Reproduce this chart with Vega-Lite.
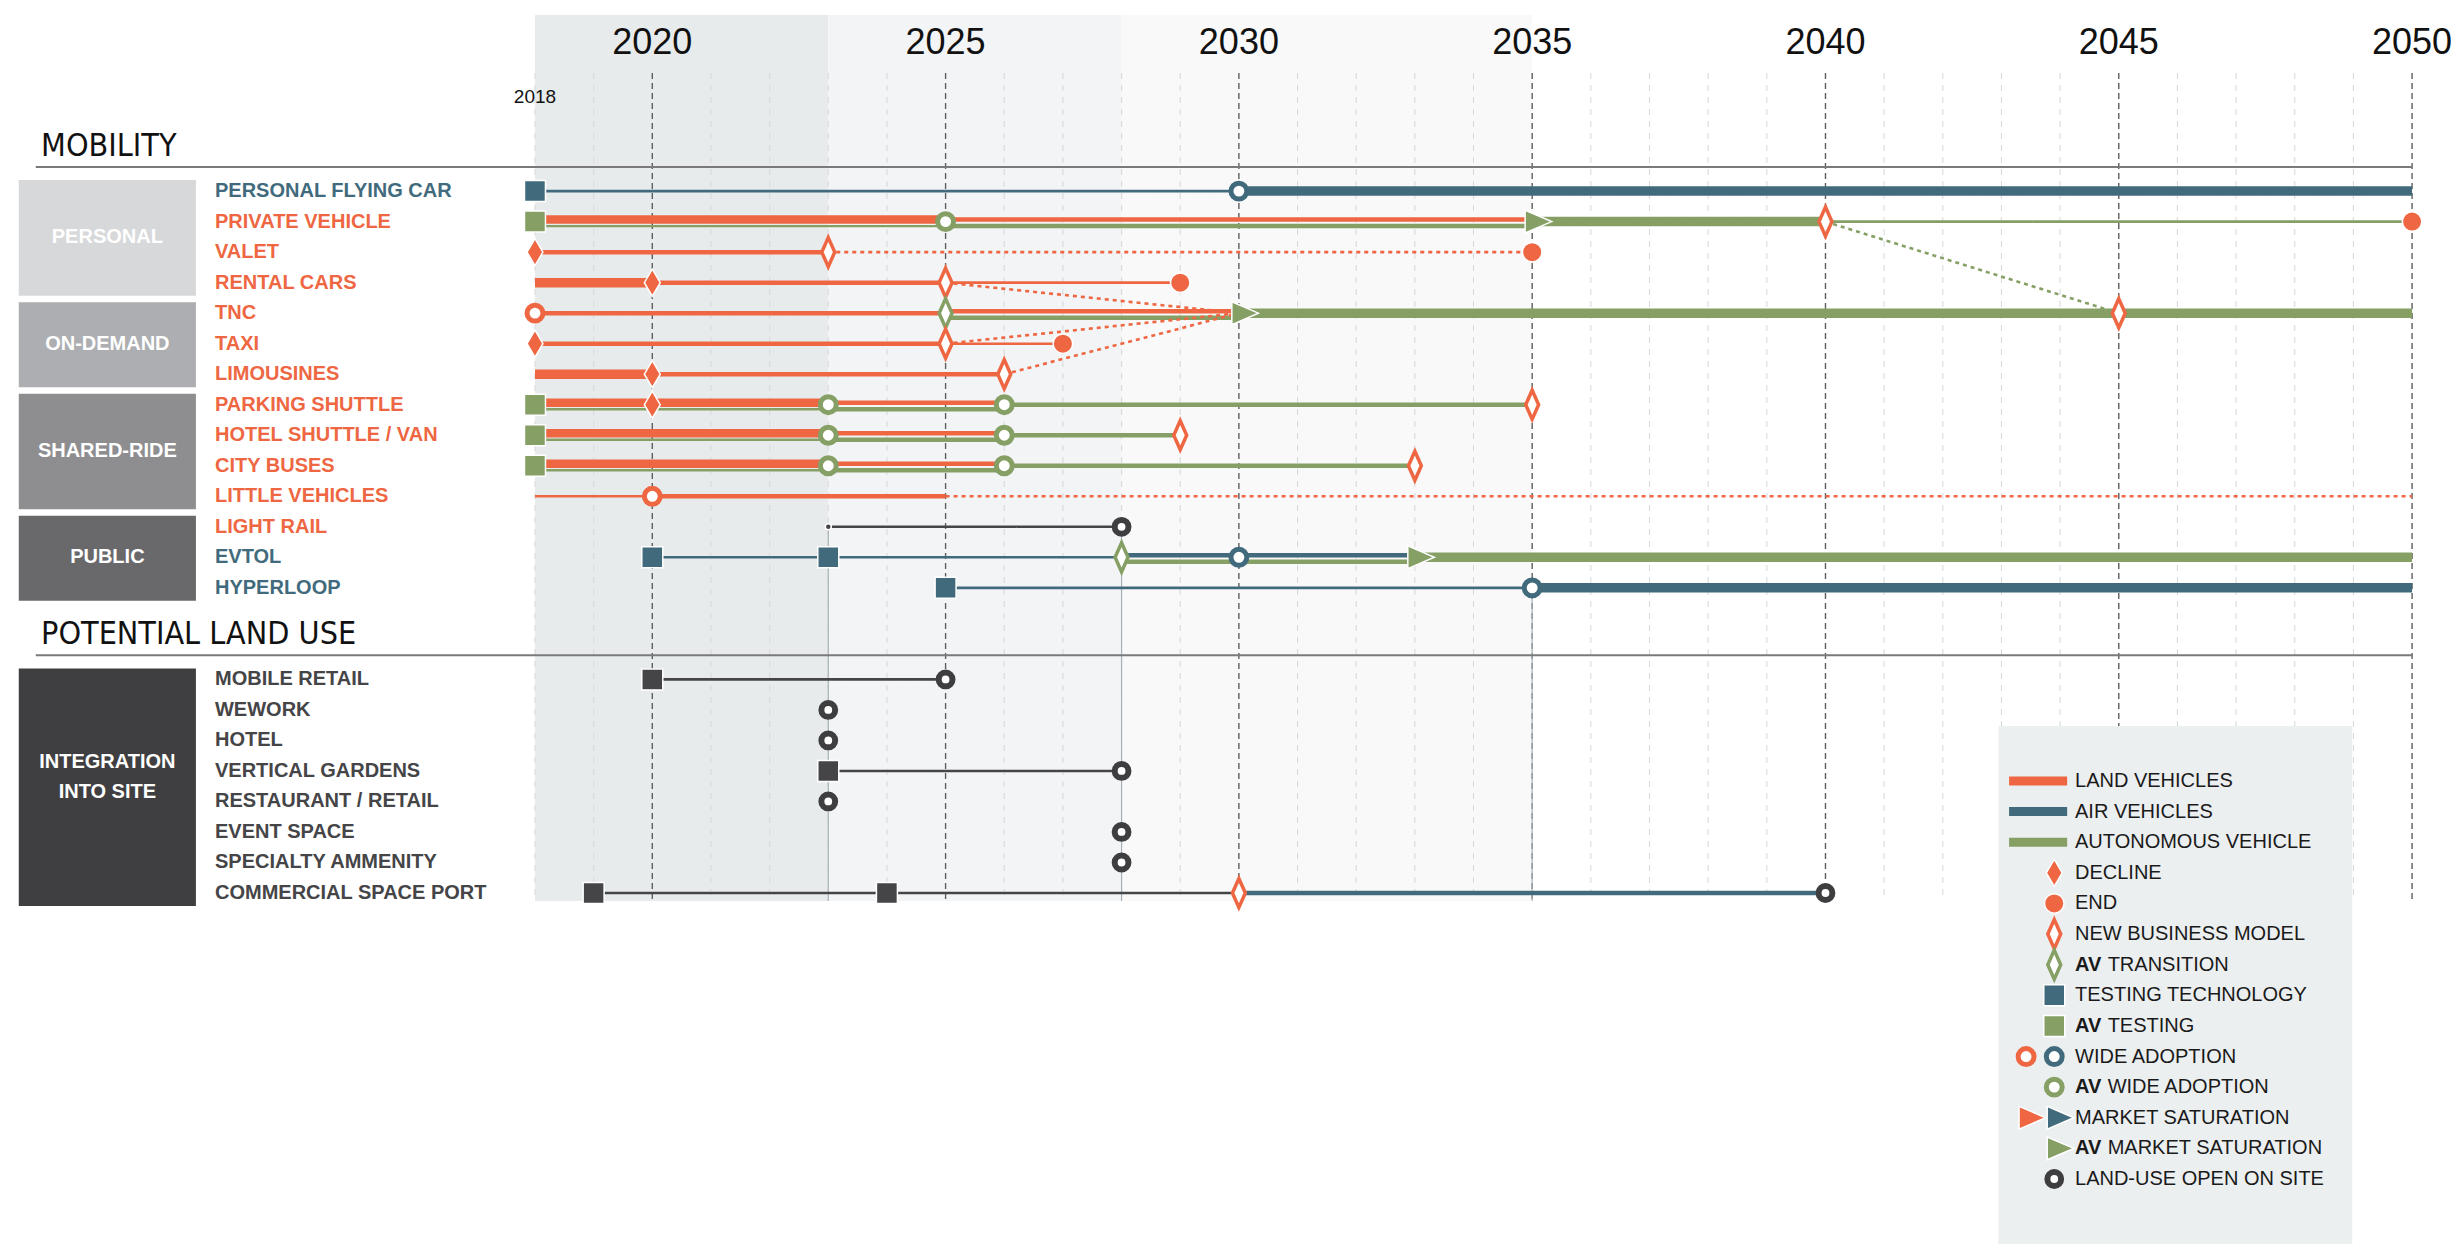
{
  "$schema": "https://vega.github.io/schema/vega-lite/v6.json",
  "width": 2459,
  "height": 1244,
  "autosize": {"type": "fit", "contains": "padding"},
  "padding": 0,
  "background": "white",
  "config": {
    "view": {"stroke": null},
    "axis": {"disable": true},
    "legend": {"disable": true},
    "text": {"font": "Liberation Sans"}
  },
  "datasets": {
    "years": [
      {"year": 2018}, {"year": 2019}, {"year": 2020}, {"year": 2021}, {"year": 2022}, {"year": 2023}, {"year": 2024},
      {"year": 2025}, {"year": 2026}, {"year": 2027}, {"year": 2028}, {"year": 2029}, {"year": 2030}, {"year": 2031},
      {"year": 2032}, {"year": 2033}, {"year": 2034}, {"year": 2035}, {"year": 2036}, {"year": 2037}, {"year": 2038},
      {"year": 2039}, {"year": 2040}, {"year": 2041}, {"year": 2042}, {"year": 2043}, {"year": 2044}, {"year": 2045},
      {"year": 2046}, {"year": 2047}, {"year": 2048}, {"year": 2049}, {"year": 2050}
    ],
    "periods": [
      {"period": "Near term", "start": 2018, "end": 2023},
      {"period": "Mid term", "start": 2023, "end": 2028},
      {"period": "Long term", "start": 2028, "end": 2035}
    ],
    "groups": [
      {"group": "PERSONAL", "first": "PERSONAL FLYING CAR", "last": "RENTAL CARS", "rows": 4},
      {"group": "ON-DEMAND", "first": "TNC", "last": "LIMOUSINES", "rows": 3},
      {"group": "SHARED-RIDE", "first": "PARKING SHUTTLE", "last": "LITTLE VEHICLES", "rows": 4},
      {"group": "PUBLIC", "first": "LIGHT RAIL", "last": "HYPERLOOP", "rows": 3},
      {"group": "INTEGRATION\nINTO SITE", "first": "MOBILE RETAIL", "last": "COMMERCIAL SPACE PORT", "rows": 8}
    ],
    "sections": [{"section": "MOBILITY"}, {"section": "POTENTIAL LAND USE"}],
    "items": [
      {"item": "PERSONAL FLYING CAR", "mode": "air"},
      {"item": "PRIVATE VEHICLE", "mode": "land"},
      {"item": "VALET", "mode": "land"},
      {"item": "RENTAL CARS", "mode": "land"},
      {"item": "TNC", "mode": "land"},
      {"item": "TAXI", "mode": "land"},
      {"item": "LIMOUSINES", "mode": "land"},
      {"item": "PARKING SHUTTLE", "mode": "land"},
      {"item": "HOTEL SHUTTLE / VAN", "mode": "land"},
      {"item": "CITY BUSES", "mode": "land"},
      {"item": "LITTLE VEHICLES", "mode": "land"},
      {"item": "LIGHT RAIL", "mode": "land"},
      {"item": "EVTOL", "mode": "air"},
      {"item": "HYPERLOOP", "mode": "air"},
      {"item": "MOBILE RETAIL", "mode": "site"},
      {"item": "WEWORK", "mode": "site"},
      {"item": "HOTEL", "mode": "site"},
      {"item": "VERTICAL GARDENS", "mode": "site"},
      {"item": "RESTAURANT / RETAIL", "mode": "site"},
      {"item": "EVENT SPACE", "mode": "site"},
      {"item": "SPECIALTY AMMENITY", "mode": "site"},
      {"item": "COMMERCIAL SPACE PORT", "mode": "site"}
    ],
    "links": [
      {"year": 2023, "from": "LIGHT RAIL"},
      {"year": 2028, "from": "LIGHT RAIL"},
      {"year": 2035, "from": "HYPERLOOP"}
    ],
    "segments": [
      {"item": "PERSONAL FLYING CAR", "mode": "air", "start": 2018, "end": 2030, "level": "low"},
      {"item": "PERSONAL FLYING CAR", "mode": "air", "start": 2030, "end": 2050, "level": "high"},
      {"item": "PRIVATE VEHICLE", "mode": "land", "start": 2018, "end": 2025, "level": "high", "shared": true},
      {"item": "PRIVATE VEHICLE", "mode": "av", "start": 2018, "end": 2025, "level": "low", "shared": true},
      {"item": "PRIVATE VEHICLE", "mode": "land", "start": 2025, "end": 2035, "level": "mid", "shared": true},
      {"item": "PRIVATE VEHICLE", "mode": "av", "start": 2025, "end": 2035, "level": "mid", "shared": true},
      {"item": "PRIVATE VEHICLE", "mode": "av", "start": 2035, "end": 2040, "level": "high"},
      {"item": "PRIVATE VEHICLE", "mode": "av", "start": 2040, "end": 2050, "level": "low"},
      {"item": "VALET", "mode": "land", "start": 2018, "end": 2023, "level": "mid"},
      {"item": "VALET", "mode": "land", "start": 2023, "end": 2035, "level": "low", "status": "projected"},
      {"item": "RENTAL CARS", "mode": "land", "start": 2018, "end": 2020, "level": "high"},
      {"item": "RENTAL CARS", "mode": "land", "start": 2020, "end": 2025, "level": "mid"},
      {"item": "RENTAL CARS", "mode": "land", "start": 2025, "end": 2029, "level": "low"},
      {"item": "TNC", "mode": "land", "start": 2018, "end": 2025, "level": "mid"},
      {"item": "TNC", "mode": "land", "start": 2025, "end": 2030, "level": "mid", "shared": true},
      {"item": "TNC", "mode": "av", "start": 2025, "end": 2030, "level": "mid", "shared": true},
      {"item": "TNC", "mode": "av", "start": 2030, "end": 2050, "level": "high"},
      {"item": "TAXI", "mode": "land", "start": 2018, "end": 2025, "level": "mid"},
      {"item": "TAXI", "mode": "land", "start": 2025, "end": 2027, "level": "low"},
      {"item": "LIMOUSINES", "mode": "land", "start": 2018, "end": 2020, "level": "high"},
      {"item": "LIMOUSINES", "mode": "land", "start": 2020, "end": 2026, "level": "mid"},
      {"item": "PARKING SHUTTLE", "mode": "land", "start": 2018, "end": 2023, "level": "high", "shared": true},
      {"item": "PARKING SHUTTLE", "mode": "av", "start": 2018, "end": 2023, "level": "low", "shared": true},
      {"item": "PARKING SHUTTLE", "mode": "land", "start": 2023, "end": 2026, "level": "mid", "shared": true},
      {"item": "PARKING SHUTTLE", "mode": "av", "start": 2023, "end": 2026, "level": "mid", "shared": true},
      {"item": "PARKING SHUTTLE", "mode": "av", "start": 2026, "end": 2035, "level": "mid"},
      {"item": "HOTEL SHUTTLE / VAN", "mode": "land", "start": 2018, "end": 2023, "level": "high", "shared": true},
      {"item": "HOTEL SHUTTLE / VAN", "mode": "av", "start": 2018, "end": 2023, "level": "low", "shared": true},
      {"item": "HOTEL SHUTTLE / VAN", "mode": "land", "start": 2023, "end": 2026, "level": "mid", "shared": true},
      {"item": "HOTEL SHUTTLE / VAN", "mode": "av", "start": 2023, "end": 2026, "level": "mid", "shared": true},
      {"item": "HOTEL SHUTTLE / VAN", "mode": "av", "start": 2026, "end": 2029, "level": "mid"},
      {"item": "CITY BUSES", "mode": "land", "start": 2018, "end": 2023, "level": "high", "shared": true},
      {"item": "CITY BUSES", "mode": "av", "start": 2018, "end": 2023, "level": "low", "shared": true},
      {"item": "CITY BUSES", "mode": "land", "start": 2023, "end": 2026, "level": "mid", "shared": true},
      {"item": "CITY BUSES", "mode": "av", "start": 2023, "end": 2026, "level": "mid", "shared": true},
      {"item": "CITY BUSES", "mode": "av", "start": 2026, "end": 2033, "level": "mid"},
      {"item": "LITTLE VEHICLES", "mode": "land", "start": 2018, "end": 2020, "level": "low"},
      {"item": "LITTLE VEHICLES", "mode": "land", "start": 2020, "end": 2025, "level": "mid"},
      {"item": "LITTLE VEHICLES", "mode": "land", "start": 2025, "end": 2050, "level": "low", "status": "projected"},
      {"item": "LIGHT RAIL", "mode": "site", "start": 2023, "end": 2028, "level": "low"},
      {"item": "EVTOL", "mode": "air", "start": 2020, "end": 2023, "level": "low"},
      {"item": "EVTOL", "mode": "air", "start": 2023, "end": 2028, "level": "low"},
      {"item": "EVTOL", "mode": "air", "start": 2028, "end": 2033, "level": "mid", "shared": true},
      {"item": "EVTOL", "mode": "av", "start": 2028, "end": 2033, "level": "mid", "shared": true},
      {"item": "EVTOL", "mode": "av", "start": 2033, "end": 2050, "level": "high"},
      {"item": "HYPERLOOP", "mode": "air", "start": 2025, "end": 2035, "level": "low"},
      {"item": "HYPERLOOP", "mode": "air", "start": 2035, "end": 2050, "level": "high"},
      {"item": "MOBILE RETAIL", "mode": "site", "start": 2020, "end": 2025, "level": "low"},
      {"item": "VERTICAL GARDENS", "mode": "site", "start": 2023, "end": 2028, "level": "low"},
      {"item": "COMMERCIAL SPACE PORT", "mode": "site", "start": 2019, "end": 2024, "level": "low"},
      {"item": "COMMERCIAL SPACE PORT", "mode": "site", "start": 2024, "end": 2030, "level": "low"},
      {"item": "COMMERCIAL SPACE PORT", "mode": "air", "start": 2030, "end": 2040, "level": "mid"}
    ],
    "connectors": [
      {"item": "PRIVATE VEHICLE", "to": "TNC", "start": 2040, "end": 2045, "mode": "av"},
      {"item": "RENTAL CARS", "to": "TNC", "start": 2025, "end": 2030, "mode": "land"},
      {"item": "TAXI", "to": "TNC", "start": 2025, "end": 2030, "mode": "land"},
      {"item": "LIMOUSINES", "to": "TNC", "start": 2026, "end": 2030, "mode": "land"}
    ],
    "events": [
      {"item": "PERSONAL FLYING CAR", "year": 2018, "event": "Testing", "mode": "air"},
      {"item": "PERSONAL FLYING CAR", "year": 2030, "event": "Wide adoption", "mode": "air"},
      {"item": "PRIVATE VEHICLE", "year": 2018, "event": "Testing", "mode": "av"},
      {"item": "PRIVATE VEHICLE", "year": 2025, "event": "Wide adoption", "mode": "av"},
      {"item": "PRIVATE VEHICLE", "year": 2035, "event": "Market saturation", "mode": "av"},
      {"item": "PRIVATE VEHICLE", "year": 2040, "event": "New business model", "mode": "land"},
      {"item": "PRIVATE VEHICLE", "year": 2050, "event": "End", "mode": "land"},
      {"item": "VALET", "year": 2018, "event": "Decline", "mode": "land"},
      {"item": "VALET", "year": 2023, "event": "New business model", "mode": "land"},
      {"item": "VALET", "year": 2035, "event": "End", "mode": "land"},
      {"item": "RENTAL CARS", "year": 2020, "event": "Decline", "mode": "land"},
      {"item": "RENTAL CARS", "year": 2025, "event": "New business model", "mode": "land"},
      {"item": "RENTAL CARS", "year": 2029, "event": "End", "mode": "land"},
      {"item": "TNC", "year": 2018, "event": "Wide adoption", "mode": "land"},
      {"item": "TNC", "year": 2025, "event": "AV transition", "mode": "av"},
      {"item": "TNC", "year": 2030, "event": "Market saturation", "mode": "av"},
      {"item": "TNC", "year": 2045, "event": "New business model", "mode": "land"},
      {"item": "TAXI", "year": 2018, "event": "Decline", "mode": "land"},
      {"item": "TAXI", "year": 2025, "event": "New business model", "mode": "land"},
      {"item": "TAXI", "year": 2027, "event": "End", "mode": "land"},
      {"item": "LIMOUSINES", "year": 2020, "event": "Decline", "mode": "land"},
      {"item": "LIMOUSINES", "year": 2026, "event": "New business model", "mode": "land"},
      {"item": "PARKING SHUTTLE", "year": 2018, "event": "Testing", "mode": "av"},
      {"item": "PARKING SHUTTLE", "year": 2020, "event": "Decline", "mode": "land"},
      {"item": "PARKING SHUTTLE", "year": 2023, "event": "Wide adoption", "mode": "av"},
      {"item": "PARKING SHUTTLE", "year": 2026, "event": "Wide adoption", "mode": "av"},
      {"item": "PARKING SHUTTLE", "year": 2035, "event": "New business model", "mode": "land"},
      {"item": "HOTEL SHUTTLE / VAN", "year": 2018, "event": "Testing", "mode": "av"},
      {"item": "HOTEL SHUTTLE / VAN", "year": 2023, "event": "Wide adoption", "mode": "av"},
      {"item": "HOTEL SHUTTLE / VAN", "year": 2026, "event": "Wide adoption", "mode": "av"},
      {"item": "HOTEL SHUTTLE / VAN", "year": 2029, "event": "New business model", "mode": "land"},
      {"item": "CITY BUSES", "year": 2018, "event": "Testing", "mode": "av"},
      {"item": "CITY BUSES", "year": 2023, "event": "Wide adoption", "mode": "av"},
      {"item": "CITY BUSES", "year": 2026, "event": "Wide adoption", "mode": "av"},
      {"item": "CITY BUSES", "year": 2033, "event": "New business model", "mode": "land"},
      {"item": "LITTLE VEHICLES", "year": 2020, "event": "Wide adoption", "mode": "land"},
      {"item": "LIGHT RAIL", "year": 2023, "event": "Start", "mode": "site"},
      {"item": "LIGHT RAIL", "year": 2028, "event": "Land-use open", "mode": "site"},
      {"item": "EVTOL", "year": 2020, "event": "Testing", "mode": "air"},
      {"item": "EVTOL", "year": 2023, "event": "Testing", "mode": "air"},
      {"item": "EVTOL", "year": 2028, "event": "AV transition", "mode": "av"},
      {"item": "EVTOL", "year": 2030, "event": "Wide adoption", "mode": "air"},
      {"item": "EVTOL", "year": 2033, "event": "Market saturation", "mode": "av"},
      {"item": "HYPERLOOP", "year": 2025, "event": "Testing", "mode": "air"},
      {"item": "HYPERLOOP", "year": 2035, "event": "Wide adoption", "mode": "air"},
      {"item": "MOBILE RETAIL", "year": 2020, "event": "Testing", "mode": "site"},
      {"item": "MOBILE RETAIL", "year": 2025, "event": "Land-use open", "mode": "site"},
      {"item": "WEWORK", "year": 2023, "event": "Land-use open", "mode": "site"},
      {"item": "HOTEL", "year": 2023, "event": "Land-use open", "mode": "site"},
      {"item": "VERTICAL GARDENS", "year": 2023, "event": "Testing", "mode": "site"},
      {"item": "VERTICAL GARDENS", "year": 2028, "event": "Land-use open", "mode": "site"},
      {"item": "RESTAURANT / RETAIL", "year": 2023, "event": "Land-use open", "mode": "site"},
      {"item": "EVENT SPACE", "year": 2028, "event": "Land-use open", "mode": "site"},
      {"item": "SPECIALTY AMMENITY", "year": 2028, "event": "Land-use open", "mode": "site"},
      {"item": "COMMERCIAL SPACE PORT", "year": 2019, "event": "Testing", "mode": "site"},
      {"item": "COMMERCIAL SPACE PORT", "year": 2024, "event": "Testing", "mode": "site"},
      {"item": "COMMERCIAL SPACE PORT", "year": 2030, "event": "New business model", "mode": "land"},
      {"item": "COMMERCIAL SPACE PORT", "year": 2040, "event": "Land-use open", "mode": "site"}
    ],
    "legend": [
      {"label": "LAND VEHICLES", "name": "LAND VEHICLES", "mode": "land"},
      {"label": "AIR VEHICLES", "name": "AIR VEHICLES", "mode": "air"},
      {"label": "AUTONOMOUS VEHICLE", "name": "AUTONOMOUS VEHICLE", "mode": "av"},
      {"label": "DECLINE", "name": "DECLINE", "event": "Decline", "mode": "land"},
      {"label": "END", "name": "END", "event": "End", "mode": "land"},
      {"label": "NEW BUSINESS MODEL", "name": "NEW BUSINESS MODEL", "event": "New business model", "mode": "land"},
      {"label": "AV TRANSITION", "prefix": "AV", "name": "TRANSITION", "event": "AV transition", "mode": "av"},
      {"label": "TESTING TECHNOLOGY", "name": "TESTING TECHNOLOGY", "event": "Testing", "mode": "air"},
      {"label": "AV TESTING", "prefix": "AV", "name": "TESTING", "event": "Testing", "mode": "av"},
      {"label": "WIDE ADOPTION", "name": "WIDE ADOPTION", "event": "Wide adoption", "mode": "air", "also": "land"},
      {"label": "AV WIDE ADOPTION", "prefix": "AV", "name": "WIDE ADOPTION", "event": "Wide adoption", "mode": "av"},
      {"label": "MARKET SATURATION", "name": "MARKET SATURATION", "event": "Market saturation", "mode": "air", "also": "land"},
      {"label": "AV MARKET SATURATION", "prefix": "AV", "name": "MARKET SATURATION", "event": "Market saturation", "mode": "av"},
      {"label": "LAND-USE OPEN ON SITE", "name": "LAND-USE OPEN ON SITE", "event": "Land-use open", "mode": "site"}
    ]
  },
  "resolve": {"scale": {"y": "independent"}},
  "layer": [
    {
      "layer": [
        {
          "data": {"name": "periods"},
          "mark": {"type": "rect", "yOffset": 7, "y2Offset": 8},
          "encoding": {
            "x": {"field": "start", "type": "quantitative", "scale": {"domain": [2008.88, 2050.8], "nice": false, "zero": false}},
            "x2": {"field": "end"},
            "y": {"datum": "_top", "type": "nominal", "scale": {"type": "point", "padding": 0, "range": [8, 893], "domain": ["_top", "_years", "_grid", "_start", "MOBILITY", "_m1", "PERSONAL FLYING CAR", "PRIVATE VEHICLE", "VALET", "RENTAL CARS", "TNC", "TAXI", "LIMOUSINES", "PARKING SHUTTLE", "HOTEL SHUTTLE / VAN", "CITY BUSES", "LITTLE VEHICLES", "LIGHT RAIL", "EVTOL", "HYPERLOOP", "POTENTIAL LAND USE", "_p1", "MOBILE RETAIL", "WEWORK", "HOTEL", "VERTICAL GARDENS", "RESTAURANT / RETAIL", "EVENT SPACE", "SPECIALTY AMMENITY", "COMMERCIAL SPACE PORT"]}},
            "y2": {"datum": "COMMERCIAL SPACE PORT"},
            "fill": {"field": "period", "type": "nominal", "scale": {"domain": ["PERSONAL", "ON-DEMAND", "SHARED-RIDE", "PUBLIC", "INTEGRATION\nINTO SITE", "Near term", "Mid term", "Long term"], "range": ["#d7d8da", "#adaeb1", "#8e8e90", "#69696b", "#3f3f41", "#e8ebec", "#f3f4f6", "#f9f9f9"]}}
          }
        },
        {
          "data": {"name": "groups"},
          "mark": {"type": "rect", "yOffset": -11, "y2Offset": 13},
          "encoding": {
            "x": {"datum": 2009.2, "type": "quantitative"},
            "x2": {"datum": 2012.22},
            "y": {"field": "first", "type": "nominal"},
            "y2": {"field": "last"},
            "fill": {"field": "group", "type": "nominal", "scale": {"domain": ["PERSONAL", "ON-DEMAND", "SHARED-RIDE", "PUBLIC", "INTEGRATION\nINTO SITE", "Near term", "Mid term", "Long term"], "range": ["#d7d8da", "#adaeb1", "#8e8e90", "#69696b", "#3f3f41", "#e8ebec", "#f3f4f6", "#f9f9f9"]}}
          }
        },
        {
          "data": {"name": "years"},
          "mark": {"type": "rule", "yOffset": 4, "y2Offset": 8},
          "encoding": {
            "x": {"field": "year", "type": "quantitative"},
            "y": {"datum": "_grid", "type": "nominal"},
            "y2": {"datum": "COMMERCIAL SPACE PORT"},
            "color": {"condition": {"test": "datum.year % 5 === 0", "value": "#5e5e5e"}, "value": "#d9dadc"},
            "strokeWidth": {"condition": {"test": "datum.year % 5 === 0", "value": 1.4}, "value": 1.1},
            "strokeDash": {"condition": {"test": "datum.year % 5 === 0", "value": [6, 4]}, "value": [6, 6]}
          }
        },
        {
          "data": {"name": "links"},
          "mark": {"type": "rule", "y2Offset": 8, "strokeWidth": 1.2},
          "encoding": {
            "x": {"field": "year", "type": "quantitative"},
            "y": {"field": "from", "type": "nominal"},
            "y2": {"datum": "COMMERCIAL SPACE PORT"},
            "color": {"value": "#a7b1b6"}
          }
        },
        {
          "data": {"name": "sections"},
          "mark": {"type": "rule", "yOffset": 37, "strokeWidth": 2},
          "encoding": {
            "x": {"datum": 2009.49, "type": "quantitative"},
            "x2": {"datum": 2050},
            "y": {"field": "section", "type": "nominal"},
            "color": {"value": "#7a7a7a"}
          }
        },
        {
          "data": {"name": "sections"},
          "mark": {"type": "text", "align": "left", "baseline": "middle", "dy": 16, "fontSize": 32, "font": "DejaVu Sans Condensed, Liberation Sans Narrow, sans-serif"},
          "encoding": {
            "x": {"datum": 2009.58, "type": "quantitative"},
            "y": {"field": "section", "type": "nominal"},
            "text": {"field": "section"},
            "color": {"value": "#111111"}
          }
        },
        {
          "data": {"name": "years"},
          "transform": [{"filter": "datum.year % 5 === 0"}],
          "mark": {"type": "text", "align": "center", "baseline": "middle", "dy": 4, "fontSize": 36},
          "encoding": {
            "x": {"field": "year", "type": "quantitative"},
            "y": {"datum": "_years", "type": "nominal"},
            "text": {"field": "year"},
            "color": {"value": "#111111"}
          }
        },
        {
          "data": {"name": "years"},
          "transform": [{"filter": "datum.year === 2018"}],
          "mark": {"type": "text", "align": "center", "baseline": "middle", "dy": -3, "fontSize": 19},
          "encoding": {
            "x": {"field": "year", "type": "quantitative"},
            "y": {"datum": "_start", "type": "nominal"},
            "text": {"field": "year"},
            "color": {"value": "#111111"}
          }
        },
        {
          "data": {"name": "items"},
          "mark": {"type": "text", "align": "left", "baseline": "middle", "fontSize": 20, "fontWeight": "bold"},
          "encoding": {
            "x": {"datum": 2012.545, "type": "quantitative"},
            "y": {"field": "item", "type": "nominal"},
            "text": {"field": "item"},
            "color": {"field": "mode", "type": "nominal", "scale": {"domain": ["land", "air", "av", "site"], "range": ["#ee6742", "#416b7c", "#859f65", "#454547"]}}
          }
        },
        {
          "data": {"name": "groups"},
          "mark": {"type": "text", "align": "center", "baseline": "middle", "fontSize": 20, "fontWeight": "bold", "lineBreak": "\n", "lineHeight": 30},
          "encoding": {
            "x": {"datum": 2010.71, "type": "quantitative"},
            "y": {"field": "first", "type": "nominal"},
            "yOffset": {"field": "rows", "type": "quantitative", "scale": {"type": "log", "domain": [1.69, 8], "range": [0, 82.7], "nice": false}},
            "text": {"field": "group"},
            "color": {"value": "white"}
          }
        },
        {
          "data": {"name": "segments"},
          "transform": [{"filter": "!datum.shared"}],
          "mark": {"type": "rule", "strokeCap": "butt"},
          "encoding": {
            "x": {"field": "start", "type": "quantitative"},
            "x2": {"field": "end"},
            "y": {"field": "item", "type": "nominal"},
            "color": {"field": "mode", "type": "nominal"},
            "strokeWidth": {"condition": [{"test": "datum.level === 'high'", "value": 9.5}, {"test": "datum.level === 'mid'", "value": 4.5}], "value": 2.6},
            "strokeDash": {"condition": {"test": "datum.status === 'projected'", "value": [4, 4]}, "value": [1, 0]}
          }
        },
        {
          "data": {"name": "segments"},
          "transform": [{"filter": "datum.shared && datum.mode !== 'av'"}],
          "mark": {"type": "rule", "strokeCap": "butt", "yOffset": -2},
          "encoding": {
            "x": {"field": "start", "type": "quantitative"},
            "x2": {"field": "end"},
            "y": {"field": "item", "type": "nominal"},
            "color": {"field": "mode", "type": "nominal"},
            "strokeWidth": {"condition": [{"test": "datum.level === 'high'", "value": 8.5}, {"test": "datum.level === 'mid'", "value": 4.5}], "value": 2.6}
          }
        },
        {
          "data": {"name": "segments"},
          "transform": [{"filter": "datum.shared && datum.mode === 'av'"}],
          "mark": {"type": "rule", "strokeCap": "butt", "yOffset": 4.5},
          "encoding": {
            "x": {"field": "start", "type": "quantitative"},
            "x2": {"field": "end"},
            "y": {"field": "item", "type": "nominal"},
            "color": {"field": "mode", "type": "nominal"},
            "strokeWidth": {"condition": [{"test": "datum.level === 'high'", "value": 8.5}, {"test": "datum.level === 'mid'", "value": 4.5}], "value": 2.4}
          }
        },
        {
          "data": {"name": "connectors"},
          "mark": {"type": "rule", "strokeWidth": 2.6, "strokeDash": [4, 4]},
          "encoding": {
            "x": {"field": "start", "type": "quantitative"},
            "x2": {"field": "end"},
            "y": {"field": "item", "type": "nominal"},
            "y2": {"field": "to"},
            "color": {"field": "mode", "type": "nominal"}
          }
        },
        {
          "data": {"name": "events"},
          "transform": [{"filter": "indexof(['Decline', 'End', 'Testing', 'Market saturation', 'Start'], datum.event) >= 0"}],
          "mark": {"type": "point", "filled": true, "size": 900, "strokeWidth": 1.5, "opacity": 1},
          "encoding": {
            "x": {"field": "year", "type": "quantitative"},
            "y": {"field": "item", "type": "nominal"},
            "color": {"field": "mode", "type": "nominal"},
            "stroke": {"value": "white"},
            "shape": {"field": "event", "type": "nominal", "scale": {"domain": ["Decline", "End", "New business model", "AV transition", "Testing", "Wide adoption", "Market saturation", "Land-use open", "Start"], "range": ["M0,-0.9L0.53,0L0,0.9L-0.53,0Z", "M-0.65,0A0.65,0.65,0,1,0,0.65,0A0.65,0.65,0,1,0,-0.65,0Z", "M0,-0.97L0.43,0L0,0.97L-0.43,0Z", "M0,-0.97L0.43,0L0,0.97L-0.43,0Z", "M-0.7,-0.7L0.7,-0.7L0.7,0.7L-0.7,0.7Z", "M-0.53,0A0.53,0.53,0,1,0,0.53,0A0.53,0.53,0,1,0,-0.53,0Z", "M-0.47,-0.76L1.3,0L-0.47,0.76Z", "M-0.46,0A0.46,0.46,0,1,0,0.46,0A0.46,0.46,0,1,0,-0.46,0Z", "M-0.2,0A0.2,0.2,0,1,0,0.2,0A0.2,0.2,0,1,0,-0.2,0Z"]}}
          }
        },
        {
          "data": {"name": "events"},
          "transform": [{"filter": "indexof(['New business model', 'AV transition', 'Wide adoption', 'Land-use open'], datum.event) >= 0"}],
          "mark": {"type": "point", "filled": true, "size": 900, "opacity": 1},
          "encoding": {
            "x": {"field": "year", "type": "quantitative"},
            "y": {"field": "item", "type": "nominal"},
            "fill": {"value": "white"},
            "stroke": {"field": "mode", "type": "nominal", "scale": {"domain": ["land", "air", "av", "site"], "range": ["#ee6742", "#416b7c", "#859f65", "#3e3e40"]}},
            "strokeWidth": {"condition": [{"test": "datum.event === 'Land-use open'", "value": 6}, {"test": "datum.event === 'Wide adoption'", "value": 5}], "value": 3.5},
            "shape": {"field": "event", "type": "nominal"}
          }
        }
      ]
    },
    {
      "layer": [
        {
          "data": {"name": "legend"},
          "transform": [{"filter": "datum.label === 'LAND VEHICLES'"}],
          "mark": {"type": "rect", "yOffset": -55, "y2Offset": 70},
          "encoding": {
            "x": {"datum": 2042.95, "type": "quantitative"},
            "x2": {"datum": 2048.98},
            "y": {"datum": "LAND VEHICLES", "type": "nominal", "scale": {"type": "point", "padding": 0, "range": [781, 1179], "domain": ["LAND VEHICLES", "AIR VEHICLES", "AUTONOMOUS VEHICLE", "DECLINE", "END", "NEW BUSINESS MODEL", "AV TRANSITION", "TESTING TECHNOLOGY", "AV TESTING", "WIDE ADOPTION", "AV WIDE ADOPTION", "MARKET SATURATION", "AV MARKET SATURATION", "LAND-USE OPEN ON SITE"]}},
            "y2": {"datum": "LAND-USE OPEN ON SITE"},
            "fill": {"value": "#eceff0"}
          }
        },
        {
          "data": {"name": "legend"},
          "transform": [{"filter": "!datum.event"}],
          "mark": {"type": "rule", "strokeWidth": 9, "strokeCap": "butt"},
          "encoding": {
            "x": {"datum": 2043.13, "type": "quantitative"},
            "x2": {"datum": 2044.12},
            "y": {"field": "label", "type": "nominal"},
            "color": {"field": "mode", "type": "nominal"}
          }
        },
        {
          "data": {"name": "legend"},
          "transform": [{"filter": "indexof(['Decline', 'End', 'Testing', 'Market saturation'], datum.event) >= 0"}],
          "mark": {"type": "point", "filled": true, "size": 900, "strokeWidth": 1.5, "opacity": 1},
          "encoding": {
            "x": {"datum": 2043.9, "type": "quantitative"},
            "y": {"field": "label", "type": "nominal"},
            "color": {"field": "mode", "type": "nominal"},
            "stroke": {"value": "white"},
            "shape": {"field": "event", "type": "nominal"}
          }
        },
        {
          "data": {"name": "legend"},
          "transform": [{"filter": "datum.also && datum.event === 'Market saturation'"}],
          "mark": {"type": "point", "filled": true, "size": 900, "strokeWidth": 1.5, "opacity": 1},
          "encoding": {
            "x": {"datum": 2043.42, "type": "quantitative"},
            "y": {"field": "label", "type": "nominal"},
            "color": {"field": "also", "type": "nominal"},
            "stroke": {"value": "white"},
            "shape": {"field": "event", "type": "nominal"}
          }
        },
        {
          "data": {"name": "legend"},
          "transform": [{"filter": "indexof(['New business model', 'AV transition', 'Wide adoption', 'Land-use open'], datum.event) >= 0"}],
          "mark": {"type": "point", "filled": true, "size": 900, "opacity": 1},
          "encoding": {
            "x": {"datum": 2043.9, "type": "quantitative"},
            "y": {"field": "label", "type": "nominal"},
            "fill": {"value": "white"},
            "stroke": {"field": "mode", "type": "nominal"},
            "strokeWidth": {"condition": [{"test": "datum.event === 'Land-use open'", "value": 6}, {"test": "datum.event === 'Wide adoption'", "value": 5}], "value": 3.5},
            "shape": {"field": "event", "type": "nominal"}
          }
        },
        {
          "data": {"name": "legend"},
          "transform": [{"filter": "datum.also && datum.event === 'Wide adoption'"}],
          "mark": {"type": "point", "filled": true, "size": 900, "strokeWidth": 5, "opacity": 1},
          "encoding": {
            "x": {"datum": 2043.42, "type": "quantitative"},
            "y": {"field": "label", "type": "nominal"},
            "fill": {"value": "white"},
            "stroke": {"field": "also", "type": "nominal"},
            "shape": {"field": "event", "type": "nominal"}
          }
        },
        {
          "data": {"name": "legend"},
          "transform": [{"filter": "datum.prefix"}],
          "mark": {"type": "text", "align": "left", "baseline": "middle", "fontSize": 20, "fontWeight": "bold"},
          "encoding": {
            "x": {"datum": 2044.254, "type": "quantitative"},
            "y": {"field": "label", "type": "nominal"},
            "text": {"field": "prefix"},
            "color": {"value": "#1a1a1a"}
          }
        },
        {
          "data": {"name": "legend"},
          "transform": [{"filter": "!datum.prefix"}],
          "mark": {"type": "text", "align": "left", "baseline": "middle", "fontSize": 20},
          "encoding": {
            "x": {"datum": 2044.254, "type": "quantitative"},
            "y": {"field": "label", "type": "nominal"},
            "text": {"field": "name"},
            "color": {"value": "#1a1a1a"}
          }
        },
        {
          "data": {"name": "legend"},
          "transform": [{"filter": "datum.prefix"}],
          "mark": {"type": "text", "align": "left", "baseline": "middle", "fontSize": 20},
          "encoding": {
            "x": {"datum": 2044.81, "type": "quantitative"},
            "y": {"field": "label", "type": "nominal"},
            "text": {"field": "name"},
            "color": {"value": "#1a1a1a"}
          }
        }
      ]
    }
  ]
}
